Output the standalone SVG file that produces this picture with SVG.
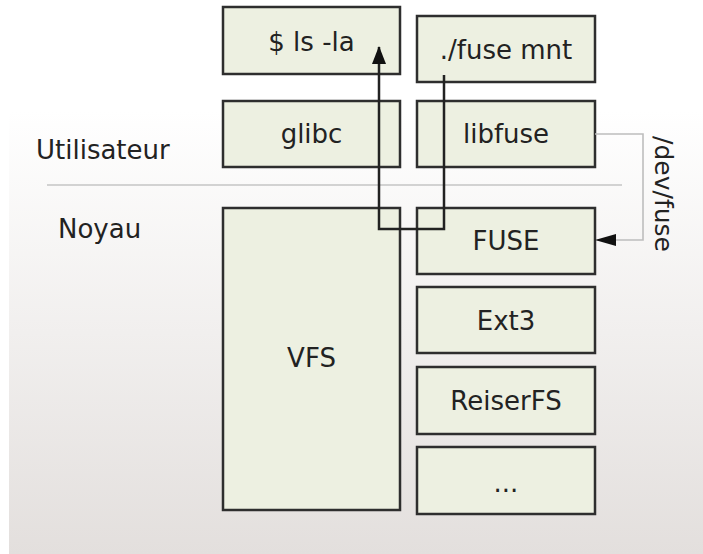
<svg xmlns="http://www.w3.org/2000/svg" width="703" height="554" viewBox="0 0 703 554">
<defs>
<linearGradient id="bg" x1="0" y1="0" x2="0" y2="554" gradientUnits="userSpaceOnUse">
<stop offset="0" stop-color="#ffffff"/>
<stop offset="0.2" stop-color="#ffffff"/>
<stop offset="1" stop-color="#e3dfdd"/>
</linearGradient>
<marker id="ah" viewBox="0 0 18 14" refX="17" refY="7" markerWidth="18" markerHeight="14" markerUnits="userSpaceOnUse" orient="auto">
<path d="M0,0 L18,7 L0,14 Z" fill="#111"/>
</marker>
<marker id="ah2" viewBox="0 0 21 12" refX="20" refY="6" markerWidth="21" markerHeight="12" markerUnits="userSpaceOnUse" orient="auto">
<path d="M0,0 L21,6 L0,12 Z" fill="#111"/>
</marker>
</defs>
<style>
.box{fill:#edf0e1;stroke:#2e2e2e;stroke-width:2.5}
.t{font-family:"DejaVu Sans",sans-serif;font-size:26px;fill:#222;text-anchor:middle}
.l{font-family:"DejaVu Sans",sans-serif;font-size:26px;fill:#222}
</style>
<rect x="0" y="0" width="703" height="554" fill="#ffffff"/>
<rect x="9" y="0" width="694" height="554" fill="url(#bg)"/>
<line x1="47" y1="185" x2="622" y2="185" stroke="#d2d2d2" stroke-width="2"/>
<text class="l" x="36" y="159">Utilisateur</text>
<text class="l" x="58" y="238">Noyau</text>
<g id="ls"><rect class="box" x="223" y="7" width="177" height="67"/><text class="t" x="311.5" y="51">$ ls -la</text></g>
<g id="fusemnt"><rect class="box" x="417" y="16" width="178" height="66"/><text class="t" x="506" y="59">./fuse mnt</text></g>
<g id="glibc"><rect class="box" x="223" y="101" width="177" height="66"/><text class="t" x="311.5" y="143">glibc</text></g>
<g id="libfuse"><rect class="box" x="417" y="101" width="178" height="66"/><text class="t" x="506" y="143">libfuse</text></g>
<g id="vfs"><rect class="box" x="223" y="208" width="177" height="302"/><text class="t" x="311.5" y="367">VFS</text></g>
<g id="fuse"><rect class="box" x="417" y="208" width="178" height="66"/><text class="t" x="506" y="250">FUSE</text></g>
<g id="ext3"><rect class="box" x="417" y="287" width="178" height="66"/><text class="t" x="506" y="330">Ext3</text></g>
<g id="reiserfs"><rect class="box" x="417" y="367" width="178" height="67"/><text class="t" x="506" y="410">ReiserFS</text></g>
<g id="etc"><rect class="box" x="417" y="447" width="178" height="67"/><text class="t" x="506" y="492">...</text></g>
<g id="connectors">
<path d="M444,75 V229 H379 V47" fill="none" stroke="#222" stroke-width="2.5" marker-end="url(#ah)"/>
<path d="M595,134 H643 V240 H596" fill="none" stroke="#bdbdbd" stroke-width="1.6" marker-end="url(#ah2)"/>
<text class="t" transform="translate(655,194) rotate(90)" style="font-size:25px">/dev/fuse</text>
</g>
</svg>
